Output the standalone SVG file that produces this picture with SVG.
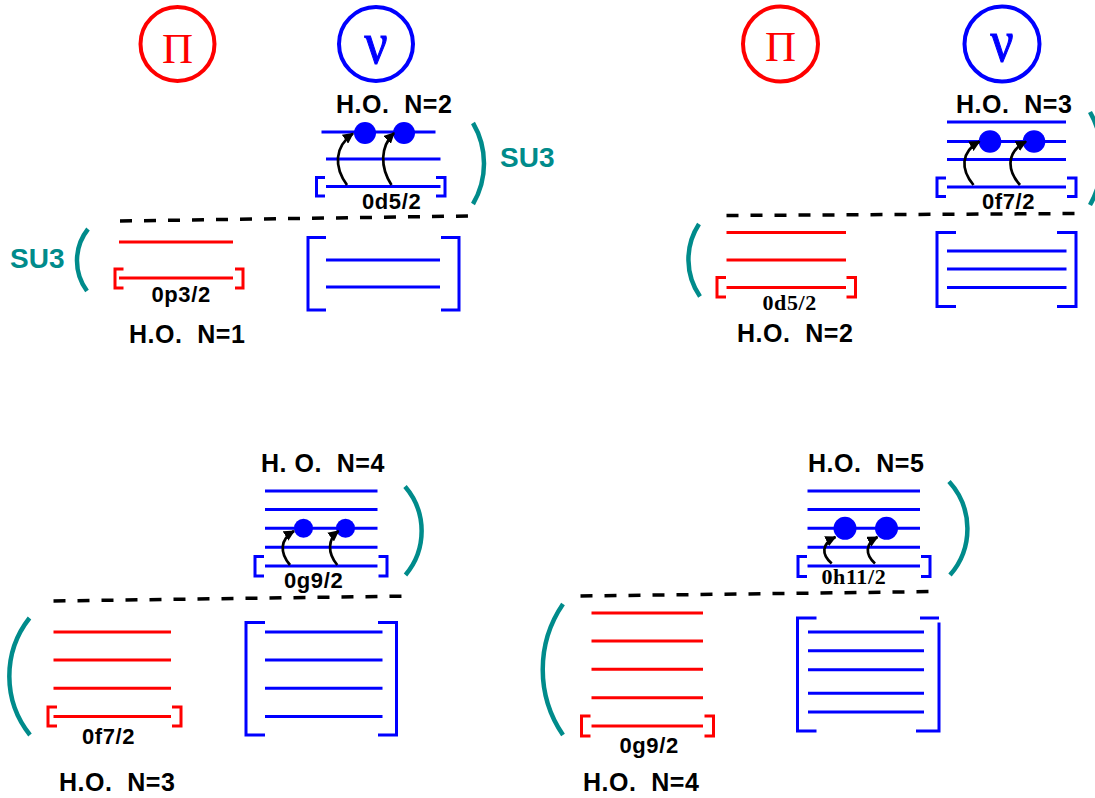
<svg xmlns="http://www.w3.org/2000/svg" width="1095" height="798" viewBox="0 0 1095 798">
<style>
.bl{stroke:#0000ff;stroke-width:3;fill:none}
.rd{stroke:#ff0000;stroke-width:3;fill:none}
.tl{stroke:#008b8b;stroke-width:4.5;fill:none}
.ds{stroke:#000;stroke-width:3.5;stroke-dasharray:12 12;fill:none}
.ar{stroke:#000;stroke-width:2.7;fill:none;marker-end:url(#ah)}
.dot{fill:#0000ff}
.cr{stroke:#ff0000;stroke-width:4;fill:none}
.cb{stroke:#0000ff;stroke-width:4;fill:none}
.ho{font-family:"Liberation Sans",Arial,sans-serif;font-weight:bold;font-size:25px;letter-spacing:0.5px;fill:#000;white-space:pre}
.lb{font-family:"Liberation Sans",Arial,sans-serif;font-weight:bold;font-size:22px;letter-spacing:0.6px;fill:#000}
.ls{font-family:"Liberation Serif","Times New Roman",serif;font-weight:bold;font-size:22px;letter-spacing:0.6px;fill:#000}
.su{font-family:"Liberation Sans",Arial,sans-serif;font-weight:bold;font-size:28px;fill:#008b8b}
.pi{font-family:"Liberation Serif","Times New Roman",serif;font-size:43px;fill:#ff0000;text-anchor:middle}
.nu{font-family:"Liberation Serif","Times New Roman",serif;font-size:60px;fill:#0000ff;stroke:#0000ff;stroke-width:1.2px;text-anchor:middle}
</style>
<defs>
<marker id="ah" markerUnits="userSpaceOnUse" markerWidth="11" markerHeight="11" refX="9" refY="5" orient="auto" viewBox="0 0 10 10">
<path d="M0,0 L10,5 L0,10 z" fill="#000"/>
</marker>
</defs>

<!-- Panel 1 -->
<g id="p1-proton-symbol">
<circle class="cr" cx="177.5" cy="44" r="37"/>
<text class="pi" x="177.5" y="63">Π</text>
</g>
<g id="p1-neutron-symbol">
<circle class="cb" cx="376" cy="44" r="37"/>
<text class="nu" x="376" y="63" transform="translate(376 0) scale(0.85 1) translate(-376 0)">ν</text>
</g>
<g id="p1-neutron-N2">
<text class="ho" x="336" y="112.5" xml:space="preserve">H.O.  N=2</text>
<path class="bl" d="M321.5,132 H435.5 M326,159 H440.5 M326,186.5 H440.5"/>
<path class="bl" d="M325,177.5 H316.5 V196 H325 M436,177.5 H445 V196 H436"/>
<circle class="dot" cx="365" cy="133" r="11"/>
<circle class="dot" cx="404" cy="133" r="11"/>
<text class="lb" x="362" y="209">0d5/2</text>
<path class="tl" d="M473,123 A80,80 0 0 1 473,204"/>
<text class="su" x="500" y="167">SU3</text>
</g>
<g id="p1-proton-N1">
<text class="su" x="10" y="268">SU3</text>
<path class="tl" d="M88,229 A51,51 0 0 0 87,291"/>
<path class="rd" d="M119,242 H233 M119,278 H233"/>
<path class="rd" d="M123.5,269 H115 V288 H123.5 M235,269 H243 V288 H235"/>
<text class="lb" x="151.5" y="302">0p3/2</text>
<text class="ho" x="129" y="343" xml:space="preserve">H.O.  N=1</text>
</g>
<g id="p1-neutron-N1">
<path class="bl" d="M326,237.5 H308 V310 H326 M441,237.5 H459 V310 H441"/>
<path class="bl" d="M326,260 H440 M326,287 H440"/>
</g>

<!-- Panel 2 -->
<g id="p2-proton-symbol">
<circle class="cr" cx="780.5" cy="44" r="37.5"/>
<text class="pi" x="780.5" y="61">Π</text>
</g>
<g id="p2-neutron-symbol">
<circle class="cb" cx="1002" cy="44" r="37.5"/>
<text class="nu" x="1002" y="61" transform="translate(1002 0) scale(0.85 1) translate(-1002 0)">ν</text>
</g>
<g id="p2-neutron-N3">
<text class="ho" x="956" y="112.5" xml:space="preserve">H.O.  N=3</text>
<path class="bl" d="M947,122 H1066 M947,141.5 H1066 M947,159.5 H1066 M947,187 H1066"/>
<path class="bl" d="M946,178 H937 V196.5 H946 M1067,178 H1076 V196.5 H1067"/>
<circle class="dot" cx="990" cy="141.5" r="11.3"/>
<circle class="dot" cx="1034" cy="141.5" r="11.3"/>
<text class="lb" x="982" y="209">0f7/2</text>
<path class="tl" d="M1090,112 A96,96 0 0 1 1090,205"/>
</g>
<g id="p2-proton-N2">
<path class="tl" d="M699,224 A65,65 0 0 0 700,296.5"/>
<path class="rd" d="M726.5,232.5 H846 M726.5,260 H846 M726.5,287.5 H846"/>
<path class="rd" d="M726,277.5 H717 V297 H726 M846.5,277.5 H855.5 V297 H846.5"/>
<text class="ls" x="762.5" y="310">0d5/2</text>
<text class="ho" x="737" y="342" xml:space="preserve">H.O.  N=2</text>
</g>
<g id="p2-neutron-N2">
<path class="bl" d="M956,232.5 H937 V306.5 H956 M1057,232.5 H1076 V306.5 H1057"/>
<path class="bl" d="M947,251 H1066.5 M947,269 H1066.5 M947,287.5 H1066.5"/>
</g>

<!-- Panel 3 -->
<g id="p3-neutron-N4">
<text class="ho" x="261" y="472" xml:space="preserve">H. O.  N=4</text>
<path class="bl" d="M265,491 H377.5 M265,509.5 H377.5 M265,528.3 H377.5 M265,547.3 H377.5 M265,566 H377.5"/>
<path class="bl" d="M264,556.5 H255 V576 H264 M378.5,556.5 H387 V576 H378.5"/>
<circle class="dot" cx="303.5" cy="528.3" r="9.5"/>
<circle class="dot" cx="345.5" cy="528.3" r="9.5"/>
<text class="lb" x="284" y="588">0g9/2</text>
<path class="tl" d="M405,486.5 A68,68 0 0 1 405.5,575"/>
</g>
<g id="p3-proton-N3">
<path class="tl" d="M29.5,618 A94,94 0 0 0 30,735"/>
<path class="rd" d="M53.5,632 H171 M53.5,660 H171 M53.5,688.3 H171 M53.5,716.5 H171"/>
<path class="rd" d="M57,707 H48 V726 H57 M172,707 H181 V726 H172"/>
<text class="lb" x="82" y="744">0f7/2</text>
<text class="ho" x="59" y="790.5" xml:space="preserve">H.O.  N=3</text>
</g>
<g id="p3-neutron-N3">
<path class="bl" d="M265,622.5 H246 V735 H265 M378,622.5 H396.5 V735 H378"/>
<path class="bl" d="M265,632 H382.5 M265,660 H382.5 M265,688.3 H382.5 M265,716.5 H382.5"/>
</g>

<!-- Panel 4 -->
<g id="p4-neutron-N5">
<text class="ho" x="808" y="472" xml:space="preserve">H.O.  N=5</text>
<path class="bl" d="M807.5,491 H920 M807.5,509.5 H920 M807.5,528.3 H920 M807.5,547.3 H920 M807.5,566 H920"/>
<path class="bl" d="M807,556.5 H798 V576.5 H807 M921,556.5 H930 V576.5 H921"/>
<circle class="dot" cx="845" cy="528.3" r="11.5"/>
<circle class="dot" cx="886.5" cy="528.3" r="11.5"/>
<text class="ls" x="821.5" y="584">0h11/2</text>
<path class="tl" d="M949,481.5 A70,70 0 0 1 950,575"/>
</g>
<g id="p4-proton-N4">
<path class="tl" d="M563,604 A116,116 0 0 0 563,735"/>
<path class="rd" d="M591.5,613 H703 M591.5,641 H703 M591.5,669.3 H703 M591.5,697.7 H703 M591.5,726 H703"/>
<path class="rd" d="M590.5,716 H581.5 V736 H590.5 M704.5,716 H713.5 V736 H704.5"/>
<text class="lb" x="619.5" y="753">0g9/2</text>
<text class="ho" x="583" y="790.5" xml:space="preserve">H.O.  N=4</text>
</g>
<g id="p4-neutron-N4">
<path class="bl" d="M816.5,618 H797.5 V731 H816.5 M920,618 H939 M939,622.5 V731 H916"/>
<path class="bl" d="M808,632 H924 M808,650.7 H924 M808,669.7 H924 M808,693.3 H924 M808,712 H924"/>
</g>

<!-- Fermi-level separators -->
<g id="separators">
<path class="ds" d="M120,221 L468,216"/>
<path class="ds" d="M726.5,215.5 L1081.5,213.5"/>
<path class="ds" d="M53.5,601 L410.5,596"/>
<path class="ds" d="M580.5,596 L938,591.5"/>
</g>

<!-- Excitation arrows -->
<g id="connectors">
<path class="ar" d="M347,185 C334,167 334,147 353,133.5"/>
<path class="ar" d="M391.5,185 C380,167 380,147 394,133"/>
<path class="ar" d="M973.5,185 C960.5,169.5 960.5,152 979.5,141.5"/>
<path class="ar" d="M1020,185 C1006.5,169.5 1006.5,152 1026,141.5"/>
<path class="ar" d="M290,565 C279.7,553 279.7,539.5 294,531"/>
<path class="ar" d="M337.3,565 C327.4,553 327.4,539.5 338.5,531"/>
<path class="ar" d="M831.7,563.5 C821.3,554.4 821.3,543.8 835.5,537"/>
<path class="ar" d="M875,563.5 C865,554.4 865,543.8 877.5,537"/>
</g>
</svg>
